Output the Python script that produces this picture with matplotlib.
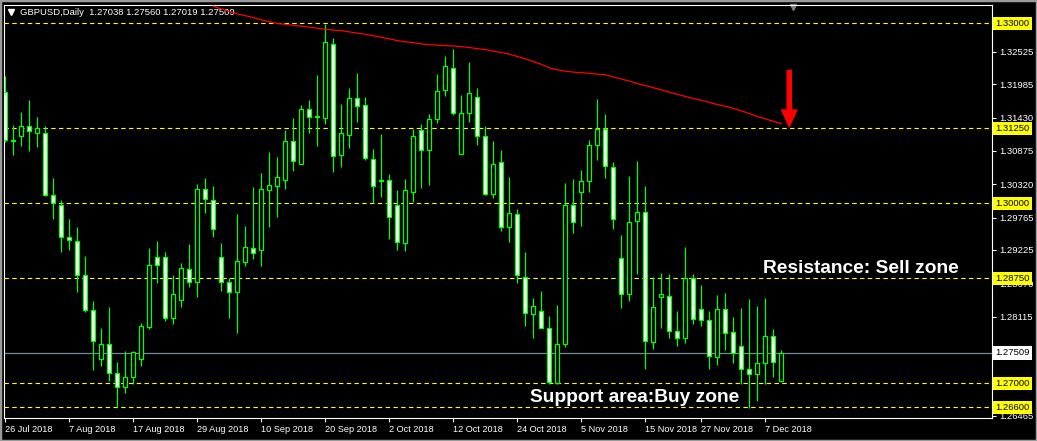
import matplotlib
matplotlib.use("Agg")
import numpy as np
import matplotlib.pyplot as plt
from matplotlib.patches import Rectangle
from matplotlib.transforms import blended_transform_factory

symbol = "GBPUSD,Daily"

opens = [1.31864, 1.31060, 1.31131, 1.31286, 1.31181, 1.31169, 1.30136, 1.29969, 1.29436, 1.29369,
         1.28803, 1.28219, 1.27414, 1.27658, 1.27169, 1.26947, 1.27114, 1.27414, 1.27947, 1.29103,
         1.29103, 1.28086, 1.28386, 1.28903, 1.28686, 1.30236, 1.30053, 1.29103, 1.28686, 1.28530,
         1.29030, 1.29253, 1.29219, 1.30230, 1.30297, 1.30397, 1.31036, 1.30664, 1.31569, 1.31450,
         1.31430, 1.32653, 1.30814, 1.31147, 1.31753, 1.31636, 1.30736, 1.30390, 1.30386, 1.29969,
         1.29336, 1.30197, 1.31225, 1.30886, 1.31414, 1.31886, 1.32253, 1.30819, 1.31503, 1.31769,
         1.31119, 1.30164, 1.30686, 1.29603, 1.29819, 1.28781, 1.28153, 1.28203, 1.27919, 1.27014,
         1.27653, 1.29969, 1.30197, 1.30369, 1.30969, 1.31236, 1.30602, 1.29086, 1.28486, 1.29702,
         1.29852, 1.27691, 1.28436, 1.28452, 1.27869, 1.27752, 1.28752, 1.28236, 1.28052, 1.27436,
         1.28236, 1.27852, 1.27630, 1.27236, 1.27152, 1.27336, 1.27797, 1.27038]
highs = [1.32125, 1.31308, 1.31525, 1.31725, 1.31442, 1.31292, 1.30425, 1.30053, 1.29742, 1.29608,
         1.29125, 1.28375, 1.27930, 1.28281, 1.27358, 1.27542, 1.27542, 1.28003, 1.29258, 1.29375,
         1.29192, 1.28808, 1.29003, 1.29325, 1.30325, 1.30425, 1.30292, 1.29342, 1.28753, 1.29825,
         1.29625, 1.30275, 1.30508, 1.30858, 1.30775, 1.31225, 1.31425, 1.31636, 1.31725, 1.32142,
         1.32986, 1.32753, 1.31658, 1.31925, 1.32175, 1.31775, 1.30908, 1.31158, 1.30486, 1.30225,
         1.30403, 1.31236, 1.31325, 1.31492, 1.32158, 1.32458, 1.32569, 1.31808, 1.32353, 1.31919,
         1.31297, 1.31042, 1.30892, 1.30442, 1.29903, 1.29192, 1.28419, 1.28542, 1.28125, 1.28308,
         1.30336, 1.30403, 1.30558, 1.31058, 1.31741, 1.31491, 1.30691, 1.29475, 1.30464, 1.30708,
         1.30286, 1.28769, 1.28836, 1.28819, 1.28208, 1.29275, 1.28819, 1.28641, 1.28208, 1.28469,
         1.28508, 1.28114, 1.28252, 1.28402, 1.28291, 1.28425, 1.27908, 1.27560]
lows = [1.31031, 1.30808, 1.30958, 1.30881, 1.30947, 1.30125, 1.29747, 1.29197, 1.29231, 1.28531,
        1.28192, 1.27230, 1.27292, 1.27047, 1.26614, 1.26847, 1.26991, 1.27297, 1.27914, 1.28681,
        1.28047, 1.27997, 1.28281, 1.28614, 1.28447, 1.29847, 1.29447, 1.28547, 1.28097, 1.27847,
        1.28958, 1.29080, 1.28964, 1.29608, 1.29780, 1.30247, 1.30547, 1.30664, 1.31180, 1.30964,
        1.31330, 1.30530, 1.30614, 1.30930, 1.31364, 1.30725, 1.30003, 1.30114, 1.29403, 1.29225,
        1.29214, 1.30019, 1.30264, 1.30308, 1.31336, 1.31797, 1.31469, 1.30819, 1.31358, 1.30981,
        1.30142, 1.30097, 1.29547, 1.29364, 1.28669, 1.27964, 1.27764, 1.27919, 1.26986, 1.26986,
        1.27614, 1.29514, 1.29631, 1.30197, 1.30725, 1.30430, 1.29580, 1.28264, 1.28375, 1.28819,
        1.27236, 1.27580, 1.27930, 1.27764, 1.27630, 1.27669, 1.27986, 1.27964, 1.27247, 1.27308,
        1.27552, 1.27347, 1.26991, 1.26586, 1.26714, 1.26997, 1.27114, 1.27019]
closes = [1.31058, 1.31040, 1.31297, 1.31203, 1.31253, 1.30136, 1.30003, 1.29436, 1.29386, 1.28803,
          1.28219, 1.27703, 1.27658, 1.27169, 1.26947, 1.27114, 1.27519, 1.27958, 1.28969, 1.28981,
          1.28086, 1.28486, 1.28919, 1.28686, 1.30236, 1.30069, 1.29581, 1.28697, 1.28530, 1.29036,
          1.29269, 1.29169, 1.30236, 1.30303, 1.30436, 1.31036, 1.30703, 1.31569, 1.31447, 1.31440,
          1.32686, 1.30797, 1.31169, 1.31753, 1.31630, 1.30753, 1.30286, 1.30370, 1.29780, 1.29353,
          1.30219, 1.31119, 1.30886, 1.31414, 1.31869, 1.32286, 1.31503, 1.31503, 1.31836, 1.31119,
          1.30164, 1.30653, 1.29603, 1.29836, 1.28803, 1.28169, 1.28286, 1.27919, 1.27019, 1.27653,
          1.29969, 1.29686, 1.30369, 1.30969, 1.31236, 1.30619, 1.29736, 1.28486, 1.29686, 1.29852,
          1.27702, 1.28269, 1.28486, 1.27875, 1.27752, 1.28752, 1.28069, 1.28058, 1.27452, 1.28236,
          1.27836, 1.27502, 1.27236, 1.27152, 1.27336, 1.27797, 1.27352, 1.27509]

# moving average, first visible at bar 26
ma_start = 26
ma_vals = [1.3329, 1.3324, 1.3320, 1.3316, 1.3313, 1.3310, 1.3306, 1.3303, 1.3300, 1.32985,
           1.3297, 1.32955, 1.3294, 1.3292, 1.32905, 1.3289, 1.3288, 1.3286, 1.3284, 1.3282,
           1.32795, 1.3277, 1.32745, 1.32715, 1.32695, 1.3268, 1.3266, 1.32645, 1.3264, 1.3263,
           1.32625, 1.32615, 1.3260, 1.3258, 1.32565, 1.3254, 1.32515, 1.3249, 1.3245, 1.3241,
           1.32365, 1.3232, 1.3226, 1.3223, 1.32205, 1.3219, 1.3218, 1.3217, 1.32155, 1.32145,
           1.3211, 1.32075, 1.3204, 1.3200, 1.31965, 1.3193, 1.31895, 1.31855, 1.3182, 1.31785,
           1.3175, 1.3172, 1.31685, 1.3165, 1.3162, 1.31585, 1.31545, 1.3150, 1.3145, 1.3141,
           1.3137, 1.3133]

date_pos = [0, 8, 16, 24, 32, 40, 48, 56, 64, 72, 80, 87, 95]
date_labels = ["26 Jul 2018", "7 Aug 2018", "17 Aug 2018", "29 Aug 2018", "10 Sep 2018",
               "20 Sep 2018", "2 Oct 2018", "12 Oct 2018", "24 Oct 2018", "5 Nov 2018",
               "15 Nov 2018", "27 Nov 2018", "7 Dec 2018"]
price_ticks = [1.33080, 1.32525, 1.31985, 1.31430, 1.30875, 1.30320, 1.29765,
               1.29225, 1.28670, 1.28115, 1.27560, 1.27005, 1.26465]
hidden_ticks = [1.33080, 1.27560, 1.27005]  # covered by the level boxes
levels = [1.33000, 1.31250, 1.30000, 1.28750, 1.27000, 1.26600]
bid = closes[-1]

GREEN = "#00ff00"
fig = plt.figure(figsize=(10.37, 4.41), dpi=100, facecolor="black")
ax = fig.add_axes([4 / 1037, 23 / 441, 988 / 1037, 413 / 441], facecolor="black")

o = np.array(opens); c = np.array(closes)
x = np.arange(len(o))
bull = c >= o
ax.vlines(x, lows, highs, color=GREEN, lw=0.9, zorder=2)
ax.bar(x, np.abs(c - o), bottom=np.minimum(o, c), width=0.55,
       color=np.where(bull, "black", "white"), edgecolor=GREEN, linewidth=0.9, zorder=3)

ax.plot(np.arange(ma_start, ma_start + len(ma_vals)), ma_vals, color="red", lw=0.9, zorder=4)

for lv in levels:
    ax.axhline(lv, color="yellow", lw=0.8, ls=(0, (4, 3)), zorder=1)
ax.axhline(bid, color="#778899", lw=0.9, zorder=1)

ax.set_xlim(-0.16, 123.34)
ax.set_ylim(1.26425, 1.33308)

for s in ax.spines.values():
    s.set_color("white"); s.set_linewidth(0.8)

ax.yaxis.tick_right()
ax.set_yticks(price_ticks)
ax.set_yticklabels(["" if v in hidden_ticks else f"{v:.5f}" for v in price_ticks],
                   family="Liberation Sans")
ax.set_xticks(date_pos)
ax.set_xticklabels(date_labels, ha="left", family="Liberation Sans")
ax.tick_params(axis="y", colors="white", labelsize=6.8, length=3, width=0.8, pad=2)
ax.tick_params(axis="x", colors="white", labelsize=6.6, length=3, width=0.8, pad=2)

trans = blended_transform_factory(ax.transAxes, ax.transData)
for lv in levels:
    ax.text(1.0035, lv, f"{lv:.5f}", transform=trans, va="center", ha="left", fontsize=6.8,
            family="Liberation Sans", color="black", clip_on=False, zorder=6,
            bbox=dict(boxstyle="square,pad=0.25", fc="yellow", ec="none"))
ax.text(1.0035, bid, f"{bid:.5f}", transform=trans, va="center", ha="left", fontsize=6.8,
        family="Liberation Sans", color="black", clip_on=False, zorder=6,
        bbox=dict(boxstyle="square,pad=0.25", fc="white", ec="none"))

header = f"{symbol}  {opens[-1]:.5f} {highs[-1]:.5f} {lows[-1]:.5f} {closes[-1]:.5f}"
ax.text(0.0162, 0.982, header, transform=ax.transAxes, color="white", fontsize=6.8,
        family="Liberation Sans", va="center", ha="left")
ax.plot([0.0071], [0.983], marker="v", color="white", ms=4, transform=ax.transAxes, clip_on=False)
ax.plot([0.7986], [0.996], marker="v", color="#808080", ms=5, transform=ax.transAxes, clip_on=False)

ax.text(94.7, 1.28847, "Resistance: Sell zone", color="white", fontsize=13.8,
        fontweight="bold", family="Liberation Sans", va="baseline", zorder=7)
ax.text(65.6, 1.26697, "Support area:Buy zone", color="white", fontsize=13.8,
        fontweight="bold", family="Liberation Sans", va="baseline", zorder=7)
ax.annotate("", xy=(98, 1.3128), xytext=(98, 1.3222),
            arrowprops=dict(facecolor="red", edgecolor="red", width=3, headwidth=11,
                            headlength=12, shrink=0))

fig.patches.append(Rectangle((0, 0), 1, 1, transform=fig.transFigure, fill=False,
                             edgecolor="#9a9a9a", lw=2.5))
fig.savefig("out.png", dpi=100, facecolor="black")
